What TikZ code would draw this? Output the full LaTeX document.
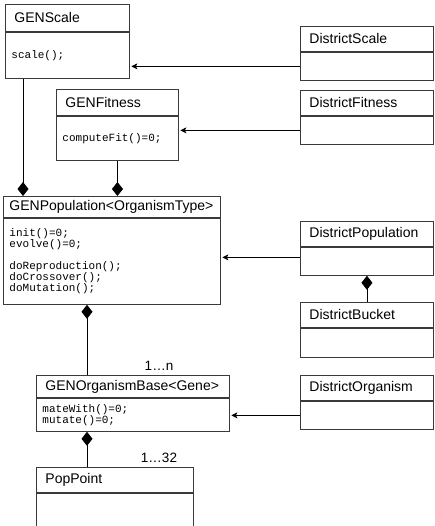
\documentclass[tikz,border=0pt]{standalone}
\usepackage{fontspec}
\setmainfont{Liberation Sans}
\setmonofont{Liberation Mono}
\usetikzlibrary{arrows.meta,positioning}
\definecolor{boxc}{HTML}{3A3A3A}

\begin{document}
\begin{tikzpicture}[
    x=1pt,y=-1pt,
    head/.style={draw=boxc,line width=0.9pt,anchor=north west,inner xsep=9pt,inner ysep=0pt,
      text width=#1-18pt,align=left,font=\fontsize{14}{15}\selectfont},
    body/.style={draw=boxc,line width=0.9pt,inner xsep=6pt,inner ysep=0pt,
      text width=#1-12pt,align=left,font=\ttfamily\fontsize{11}{11}\selectfont},
    assoc/.style={-{Stealth[length=6pt,width=6pt,inset=1.5pt]},line width=0.8pt,shorten >=1.5pt},
    comp/.style={-{Diamond[length=14pt,width=11pt]},line width=0.8pt},
    mult/.style={font=\fontsize{13.5}{15}\selectfont,anchor=base,inner sep=0pt},
  ]
\useasboundingbox (0,0) rectangle (434,526);
\clip (0,0) rectangle (434,526);

% ======================= GEN classes (left column) =======================
\node[head=124,minimum height=27pt] (scaleH) at (5,4) {GENScale};
\node[body=124,minimum height=46pt,below=0pt of scaleH] (scaleB) {scale();};

\node[head=122,minimum height=26pt] (fitH) at (56,89) {GENFitness};
\node[body=122,minimum height=44pt,below=0pt of fitH] (fitB) {computeFit()=0;};

\node[head=217,minimum height=21pt,inner xsep=6pt,text width=205pt] (popH) at (3,196) {GENPopulation<OrganismType>};
\node[body=217,minimum height=86pt,below=0pt of popH] (popB)
  {init()=0;\\ evolve()=0;\\[11pt] doReproduction();\\ doCrossover();\\ doMutation();};

\node[head=193,minimum height=22pt] (orgH) at (36,375) {GENOrganismBase<Gene>};
\node[body=193,minimum height=33pt,below=0pt of orgH] (orgB) {mateWith()=0;\\ mutate()=0;};

\node[head=157,minimum height=25pt] (ptH) at (36,467) {PopPoint};
\node[body=157,minimum height=70pt,below=0pt of ptH] (ptB) {};

% ======================= District classes (right column) =======================
\node[head=133,minimum height=25pt] (dscaleH) at (300,26) {DistrictScale};
\node[body=133,minimum height=28pt,below=0pt of dscaleH] (dscaleB) {};

\node[head=133,minimum height=25pt] (dfitH) at (300,90) {DistrictFitness};
\node[body=133,minimum height=28pt,below=0pt of dfitH] (dfitB) {};

\node[head=133,minimum height=25pt] (dpopH) at (300,221) {DistrictPopulation};
\node[body=133,minimum height=28pt,below=0pt of dpopH] (dpopB) {};

\node[head=133,minimum height=25pt] (dbuckH) at (300,302) {DistrictBucket};
\node[body=133,minimum height=29pt,below=0pt of dbuckH] (dbuckB) {};

\node[head=133,minimum height=25pt] (dorgH) at (300,375) {DistrictOrganism};
\node[body=133,minimum height=28pt,below=0pt of dorgH] (dorgB) {};

% composition (diamond at the owner)
\coordinate (scaleJ) at ([xshift=18pt]scaleB.south west);
\draw[comp] (scaleJ) -- (scaleJ |- popH.north);
\draw[comp] (fitB.south) -- (fitB.south |- popH.north);
\coordinate (orgJ) at ([xshift=51pt]orgH.north west);
\draw[comp] (orgJ) -- (orgJ |- popB.south);
\coordinate (ptJ) at (orgJ |- ptH.north);
\draw[comp] (ptJ) -- (ptJ |- orgB.south);
\draw[comp] (dbuckH.north) -- (dpopB.south);

% association arrows from the District side
\draw[assoc] (dscaleB.west) -- (dscaleB.west -| scaleB.east);
\draw[assoc] (dfitB.west) -- (dfitB.west -| fitB.east);
\coordinate (dpopJ) at ([yshift=4pt]dpopB.west);
\draw[assoc] (dpopJ) -- (dpopJ -| popB.east);
\draw[assoc] (dorgB.west) -- (dorgB.west -| orgB.east);

% multiplicities
\node[mult] (multN) at ([xshift=72pt,yshift=5pt]orgJ) {1…n};
\node[mult] (mult32) at ([xshift=72pt,yshift=5pt]ptJ) {1…32};

\end{tikzpicture}
\end{document}
